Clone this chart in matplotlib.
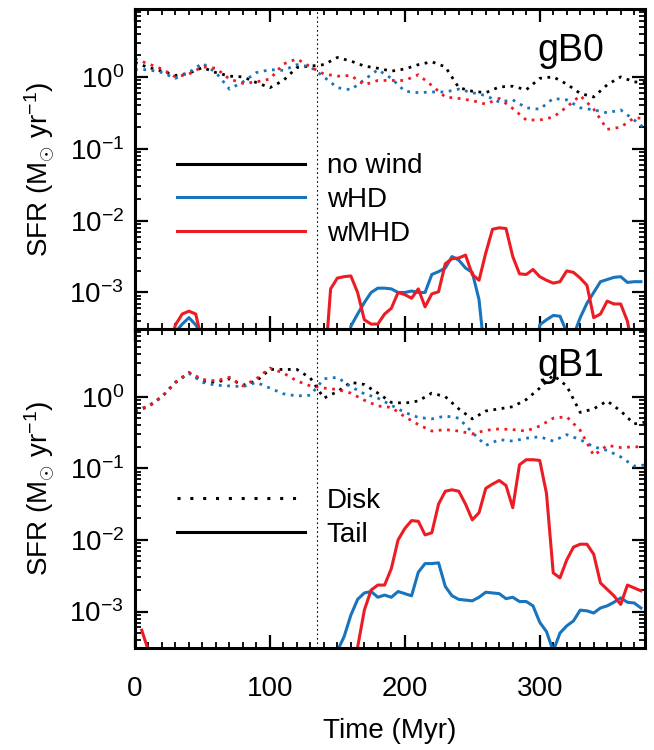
#!/usr/bin/env python3
# -*- coding: utf-8 -*-
"""
SFR history of disk (dotted) and stripped tail (solid) for gB0 / gB1,
no wind vs wHD vs wMHD.  Values are log10(SFR / Msun yr^-1) read off the figure.
"""
import numpy as np
import matplotlib
matplotlib.use("Agg")
import matplotlib.pyplot as plt
from matplotlib.lines import Line2D
from matplotlib.ticker import MultipleLocator, LogLocator, NullFormatter

nan = np.nan

# ---- data -------------------------------------------------------------------
t_disk = np.arange(0, 390, 10)          # Myr, disk curves
t_tail = np.arange(0, 380, 5)           # Myr, tail curves
t_wind = 135                            # wind onset (vertical dotted line)

# gB0, disk (log10 SFR)
gB0_disk_nowind = [0.2, 0.13, 0.08, 0.02, 0.05, 0.13, 0.06, 0.01, 0.0, -0.08,
                   -0.15, -0.05, 0.13, 0.15, 0.17, 0.27, 0.22, 0.15, 0.12, 0.08,
                   0.11, 0.17, 0.21, 0.14, -0.15, -0.2, -0.22, -0.14, -0.13, -0.18,
                   -0.02, 0.0, -0.1, -0.23, -0.28, -0.11, 0.0, -0.07, -0.08]
gB0_disk_whd = [0.1, 0.1, 0.06, -0.02, 0.06, 0.19, 0.06, -0.17, -0.07, 0.06,
                0.1, 0.09, 0.17, 0.14, 0.0, -0.15, -0.18, -0.04, 0.1, -0.02,
                -0.2, -0.22, -0.21, -0.21, -0.17, -0.22, -0.26, -0.35, -0.32, -0.43,
                -0.45, -0.3, -0.32, -0.43, -0.46, -0.5, -0.46, -0.6, -0.75]
gB0_disk_wmhd = [0.25, 0.18, 0.11, 0.0, 0.04, 0.14, 0.12, -0.03, -0.09, -0.07,
                 -0.03, 0.18, 0.25, 0.14, 0.04, 0.01, 0.02, -0.11, -0.05, -0.05,
                 -0.05, 0.03, -0.12, -0.28, -0.3, -0.33, -0.38, -0.3, -0.44, -0.6,
                 -0.6, -0.56, -0.42, -0.26, -0.45, -0.73, -0.7, -0.57, -0.58]

# gB0, tail
gB0_tail_whd = [nan, nan, nan, nan, nan, nan, -3.55, -3.44, -3.35, -3.45,
                -3.6, nan, nan, nan, nan, nan, nan, nan, nan, nan,
                nan, nan, nan, nan, nan, nan, nan, nan, nan, nan,
                nan, -4.2, -3.47, -3.3, -3.14, -3.0, -2.94, -2.94, -2.95, -3.0,
                -3.0, -2.98, -3.0, -3.0, -2.75, -2.71, -2.66, -2.5, -2.55, -2.66,
                -2.72, -3.1, -4.0, nan, nan, nan, nan, nan, nan, -4.2,
                -3.45, -3.38, -3.32, -3.33, -3.55, -3.6, -3.35, -3.15, -3.0, -2.85,
                -2.82, -2.79, -2.78, -2.86, -2.85, -2.85]
gB0_tail_wmhd = [nan, nan, nan, nan, nan, -3.8, -3.45, -3.3, -3.26, -3.3,
                 -3.7, nan, nan, nan, nan, nan, nan, nan, nan, nan,
                 nan, nan, nan, nan, nan, nan, nan, nan, -4.2, -2.95,
                 -2.8, -2.78, -2.77, -3.0, -3.38, -3.44, -3.44, -3.3, -3.22, -3.0,
                 -3.03, -3.08, -2.95, -3.2, -3.02, -2.99, -2.6, -2.53, -2.52, -2.48,
                 -2.75, -2.83, -2.45, -2.12, -2.1, -2.11, -2.5, -2.74, -2.75, -2.68,
                 -2.78, -2.83, -2.87, -2.85, -2.7, -2.72, -2.8, -2.9, -3.35, -3.3,
                 -3.12, -3.16, -3.16, -3.4, -3.9, -4.5]

# gB1, disk
gB1_disk_nowind = [-0.2, -0.14, 0.0, 0.2, 0.33, 0.22, 0.2, 0.25, 0.16, 0.22,
                   0.38, 0.38, 0.38, 0.26, -0.02, 0.07, 0.2, 0.17, 0.05, -0.08,
                   -0.09, -0.06, 0.05, 0.0, -0.17, -0.31, -0.2, -0.17, -0.14, -0.04,
                   0.12, 0.3, 0.15, -0.22, -0.17, -0.06, -0.2, -0.38, -0.35]
gB1_disk_whd = [-0.2, -0.13, 0.0, 0.2, 0.33, 0.2, 0.16, 0.15, 0.14, 0.2,
                0.12, 0.04, 0.01, 0.02, 0.25, 0.27, 0.14, 0.04, -0.02, -0.12,
                -0.22, -0.29, -0.31, -0.27, -0.3, -0.5, -0.68, -0.6, -0.62, -0.58,
                -0.56, -0.62, -0.53, -0.6, -0.7, -0.75, -0.84, -0.97, -0.95]
gB1_disk_wmhd = [-0.2, -0.13, 0.0, 0.2, 0.34, 0.24, 0.22, 0.27, 0.15, 0.25,
                 0.4, 0.33, 0.22, 0.15, 0.12, 0.1, 0.05, -0.05, -0.13, -0.15,
                 -0.28, -0.39, -0.48, -0.46, -0.48, -0.52, -0.47, -0.45, -0.46, -0.48,
                 -0.41, -0.3, -0.28, -0.47, -0.82, -0.68, -0.71, -0.7, -0.7]

# gB1, tail
gB1_tail_whd = [nan, nan, nan, nan, nan, nan, nan, nan, nan, nan,
                nan, nan, nan, nan, nan, nan, nan, nan, nan, nan,
                nan, nan, nan, nan, nan, nan, nan, nan, nan, -4.0,
                -3.55, -3.35, -3.05, -2.83, -2.74, -2.72, -2.8, -2.77, -2.8, -2.72,
                -2.75, -2.78, -2.45, -2.33, -2.33, -2.32, -2.65, -2.78, -2.83, -2.84,
                -2.85, -2.8, -2.73, -2.74, -2.75, -2.82, -2.8, -2.86, -2.86, -2.92,
                -3.15, -3.28, -3.55, -3.3, -3.2, -3.13, -2.98, -2.99, -3.02, -2.95,
                -2.92, -2.87, -2.81, -2.87, -2.88, -2.95]
gB1_tail_wmhd = [nan, -3.26, -3.55, nan, nan, nan, nan, nan, nan, nan,
                 nan, nan, nan, nan, nan, nan, nan, nan, nan, nan,
                 nan, nan, nan, nan, nan, nan, nan, nan, nan, nan,
                 nan, nan, -4.3, -3.5, -2.98, -2.7, -2.63, -2.63, -2.4, -2.0,
                 -1.84, -1.73, -1.74, -1.93, -1.9, -1.5, -1.32, -1.3, -1.32, -1.5,
                 -1.72, -1.62, -1.28, -1.22, -1.17, -1.24, -1.55, -0.95, -0.88, -0.88,
                 -0.89, -1.35, -2.46, -2.53, -2.28, -2.1, -2.06, -2.06, -2.2, -2.6,
                 -2.69, -2.78, -2.9, -2.63, -2.67, -2.71]

runs = ["no wind", "wHD", "wMHD"]
colors = {"no wind": "black", "wHD": "#1874bc", "wMHD": "#ec1c24"}

panels = [
    ("gB0", {"no wind": gB0_disk_nowind, "wHD": gB0_disk_whd, "wMHD": gB0_disk_wmhd},
            {"wHD": gB0_tail_whd, "wMHD": gB0_tail_wmhd}),
    ("gB1", {"no wind": gB1_disk_nowind, "wHD": gB1_disk_whd, "wMHD": gB1_disk_wmhd},
            {"wHD": gB1_tail_whd, "wMHD": gB1_tail_wmhd}),
]

# ---- style ------------------------------------------------------------------
plt.rcParams.update({
    "font.family": ["Liberation Sans", "DejaVu Sans"],
    "mathtext.fontset": "custom",
    "mathtext.rm": "Liberation Sans",
    "mathtext.it": "Liberation Sans:italic",
    "mathtext.bf": "Liberation Sans:bold",
})
DOT = (0, (1, 2))
LW = 2.2

fig = plt.figure(figsize=(6.54, 7.5), dpi=100)
ax_top = fig.add_axes([0.2064, 0.5613, 0.7798, 0.4267])
ax_bot = fig.add_axes([0.2064, 0.1360, 0.7798, 0.4253], sharex=ax_top)

for ax, (name, disk, tail) in zip([ax_top, ax_bot], panels):
    for run in runs:
        ax.plot(t_disk, 10 ** np.array(disk[run]), color=colors[run], lw=2.0, ls=DOT)
    for run, vals in tail.items():
        ax.plot(t_tail, 10 ** np.array(vals), color=colors[run], lw=LW)
    ax.axvline(t_wind, color="black", lw=0.8, ls=(0, (1.5, 2.5)))

    ax.set_yscale("log")
    ax.set_ylim(3.1e-4, 8.8)
    ax.set_xlim(0, 378)
    ax.xaxis.set_major_locator(MultipleLocator(100))
    ax.xaxis.set_minor_locator(MultipleLocator(10))
    ax.yaxis.set_major_locator(LogLocator(base=10, numticks=12))
    ax.yaxis.set_minor_locator(LogLocator(base=10, subs=np.arange(2, 10), numticks=12))
    ax.yaxis.set_minor_formatter(NullFormatter())
    ax.tick_params(which="both", direction="in", top=True, right=True, labelsize=20)
    ax.tick_params(which="major", length=9.5, width=1.6)
    ax.tick_params(which="minor", length=4.5, width=1.3)
    ax.tick_params(axis="y", pad=8)
    ax.tick_params(axis="x", pad=20)
    for s in ax.spines.values():
        s.set_linewidth(2.2)

    ax.set_ylabel(r"SFR (M$_{\odot}$ yr$^{-1}$)", fontsize=20)
    ax.yaxis.set_label_coords(-0.152, 0.5)
    ax.text(0.92, 0.925 if name == "gB0" else 0.94, name, transform=ax.transAxes,
            ha="right", va="top", fontsize=27)

ax_top.tick_params(axis="x", labelbottom=False)
ax_bot.set_xlabel("Time (Myr)", fontsize=20, labelpad=12)

# legends
h_runs = [Line2D([], [], color=colors[r], lw=LW) for r in runs]
ax_top.legend(h_runs, runs, loc="center left", bbox_to_anchor=(0.082, 0.403),
              frameon=False, fontsize=20, handlelength=4.6, handletextpad=0.8,
              labelspacing=0.28, borderpad=0, borderaxespad=0)
h_comp = [Line2D([], [], color="black", lw=LW, ls=(0, (1, 3.2))),
          Line2D([], [], color="black", lw=LW)]
ax_bot.legend(h_comp, ["Disk", "Tail"], loc="center left", bbox_to_anchor=(0.082, 0.408),
              frameon=False, fontsize=20, handlelength=4.6, handletextpad=0.8,
              labelspacing=0.28, borderpad=0, borderaxespad=0)

fig.savefig("out.png", dpi=100)
